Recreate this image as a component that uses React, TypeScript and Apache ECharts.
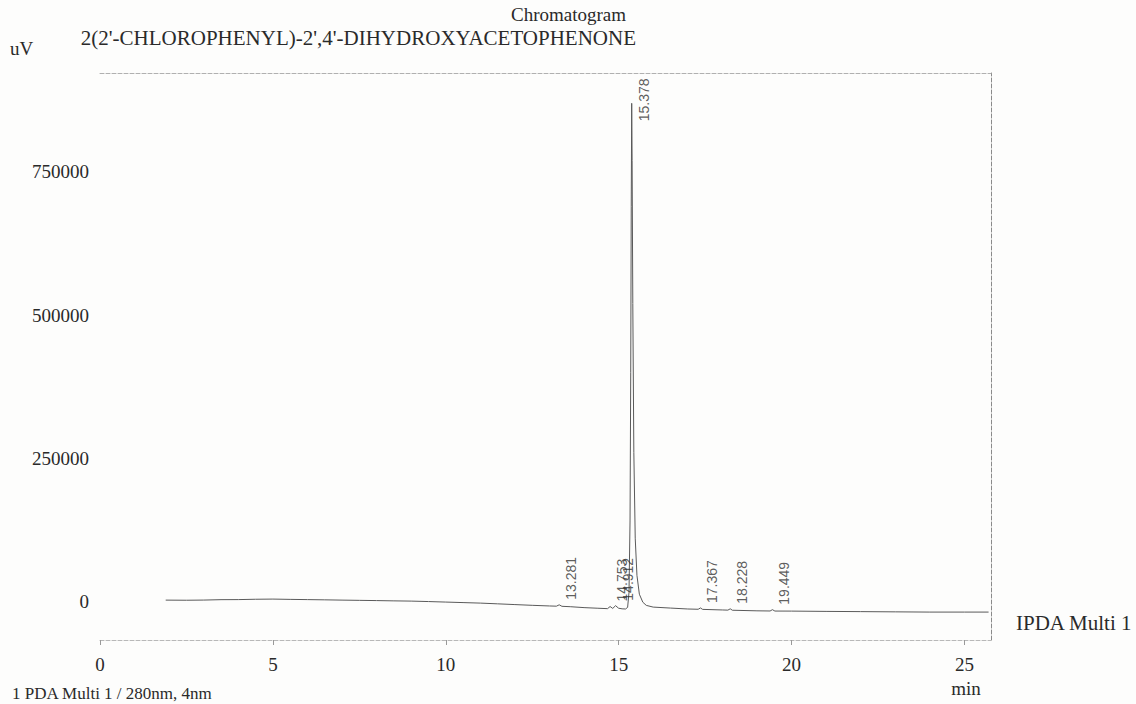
import React, { useEffect, useRef } from "react";
import * as echarts from "echarts";

// Retention time (min) and detector signal (uV)
const signalTime = [
  1.9, 2.5, 3.0, 3.5, 4.0, 4.5, 5.0, 5.5, 6.0, 6.5, 7.0, 7.5, 8.0, 8.5, 9.0, 9.5,
  10.0, 10.5, 11.0, 11.5, 12.0, 12.5, 13.0, 13.2, 13.281, 13.36, 13.6, 14.0, 14.4,
  14.68, 14.753, 14.83, 14.912, 15.0, 15.1, 15.2, 15.26, 15.3, 15.33, 15.35, 15.365,
  15.378, 15.39, 15.41, 15.44, 15.48, 15.53, 15.6, 15.7, 15.8, 16.0, 16.5, 17.0, 17.3,
  17.367, 17.43, 18.0, 18.16, 18.228, 18.29, 19.0, 19.38, 19.449, 19.52, 20.0, 21.0,
  22.0, 23.0, 24.0, 25.0, 25.7,
];
const signalValue = [
  1700, 1500, 1800, 2500, 2600, 3200, 3500, 3000, 2600, 2200, 1700, 1300, 900, 400, 0, -800,
  -1700, -2600, -3500, -4800, -6100, -7400, -8500, -8900, -6500, -9100, -9800, -11400, -12500,
  -13200, -9500, -12800, -8000, -12500, -13500, -13800, -11000, 15000, 140000, 400000, 690000,
  870000, 770000, 520000, 260000, 110000, 45000, 12000, -2000, -7500, -10500, -12200, -13800, -14300,
  -12000, -14500, -15500, -15800, -13500, -16000, -17000, -17300, -15000, -17400, -17500, -18000,
  -18400, -18800, -19200, -19200, -19200,
];

// Labelled peaks (retention times)
const peakTimes = [13.281, 14.753, 14.912, 15.378, 17.367, 18.228, 19.449];

// Axis tick labels
const xTickLabels = [0, 5, 10, 15, 20, 25];
const yTickLabels = [0, 250000, 500000, 750000];

const X_MIN = 0;
const X_MAX = 25.77;
const Y_MIN = -68000;
const Y_MAX = 923000;
const LABEL_CAP = 830000;

const SERIF = "'Liberation Serif', 'DejaVu Serif', serif";
const SANS = "'Liberation Sans', 'DejaVu Sans', sans-serif";

function valueAt(t: number): number {
  const i = signalTime.indexOf(t);
  return i >= 0 ? signalValue[i] : 0;
}

export default function App() {
  const ref = useRef<HTMLDivElement>(null);

  useEffect(() => {
    if (!ref.current) return;
    const chart = echarts.init(ref.current, undefined, { renderer: "svg" });

    const txt = (text: string, x: number, y: number, align: string, vAlign: string, size = 19, family = SERIF) => ({
      type: "text",
      x,
      y,
      silent: true,
      style: {
        text,
        fill: "#2a2a2a",
        fontSize: size,
        fontFamily: family,
        align,
        verticalAlign: vAlign,
        textAlign: align,
        textVerticalAlign: vAlign,
      },
    });

    const option: any = {
      animation: false,
      backgroundColor: "#fdfdfc",
      grid: { left: 100, right: 145, top: 73, bottom: 64, containLabel: false },
      xAxis: [
        {
          type: "value",
          min: X_MIN,
          max: X_MAX,
          position: "bottom",
          axisLine: { show: true, onZero: false, lineStyle: { color: "#b8b8b8", width: 1, type: "dashed" } },
          axisTick: {
            show: true,
            length: 5,
            customValues: xTickLabels,
            lineStyle: { color: "#999" },
          },
          axisLabel: {
            show: true,
            customValues: xTickLabels,
            formatter: (v: number) => String(v),
            margin: 15,
            fontFamily: SERIF,
            fontSize: 19,
            color: "#2a2a2a",
          },
          splitLine: { show: false },
        },
        {
          type: "value",
          min: X_MIN,
          max: X_MAX,
          position: "top",
          axisLine: { show: true, onZero: false, lineStyle: { color: "#b0b0b0", width: 1, type: "dashed" } },
          axisTick: { show: false },
          axisLabel: { show: false },
          splitLine: { show: false },
        },
      ],
      yAxis: [
        {
          type: "value",
          min: Y_MIN,
          max: Y_MAX,
          position: "left",
          axisLine: { show: false, onZero: false },
          axisTick: { show: false },
          axisLabel: {
            show: true,
            customValues: yTickLabels,
            formatter: (v: number) => String(v),
            margin: 11,
            fontFamily: SERIF,
            fontSize: 19,
            color: "#2a2a2a",
          },
          splitLine: { show: false },
        },
        {
          type: "value",
          min: Y_MIN,
          max: Y_MAX,
          position: "right",
          axisLine: { show: true, onZero: false, lineStyle: { color: "#8a8a8a", width: 1, type: "dashed" } },
          axisTick: { show: false },
          axisLabel: { show: false },
          splitLine: { show: false },
        },
      ],
      series: [
        {
          type: "line",
          xAxisIndex: 0,
          yAxisIndex: 0,
          data: signalTime.map((t, i) => [t, signalValue[i]]),
          showSymbol: false,
          symbol: "none",
          lineStyle: { color: "#5a5a5a", width: 1 },
          silent: true,
          z: 3,
        },
        {
          type: "scatter",
          xAxisIndex: 0,
          yAxisIndex: 0,
          data: peakTimes.map((t) => [t, Math.min(valueAt(t), LABEL_CAP)]),
          symbolSize: 1,
          itemStyle: { color: "rgba(0,0,0,0)" },
          silent: true,
          z: 5,
          label: {
            show: true,
            position: "inside",
            rotate: 90,
            offset: [5, 12],
            align: "left",
            verticalAlign: "middle",
            formatter: (p: any) => Number(p.value[0]).toFixed(3),
            fontFamily: SANS,
            fontSize: 14,
            color: "#333",
          },
        },
      ],
      graphic: [
        txt("Chromatogram", 626, 14, "right", "middle"),
        txt("2(2'-CHLOROPHENYL)-2',4'-DIHYDROXYACETOPHENONE", 636, 38, "right", "middle", 21),
        txt("uV", 10, 48, "left", "middle"),
        txt("min", 966, 688, "center", "middle"),
        txt("IPDA Multi 1", 1016, 623, "left", "middle", 21),
        txt("1 PDA Multi 1 / 280nm, 4nm", 12, 685, "left", "top", 17),
      ],
    };

    chart.setOption(option);
    return () => chart.dispose();
  }, []);

  return (
    <div
      ref={ref}
      style={{ position: "fixed", left: 0, top: 0, width: "1136px", height: "704px", overflow: "hidden" }}
    />
  );
}
